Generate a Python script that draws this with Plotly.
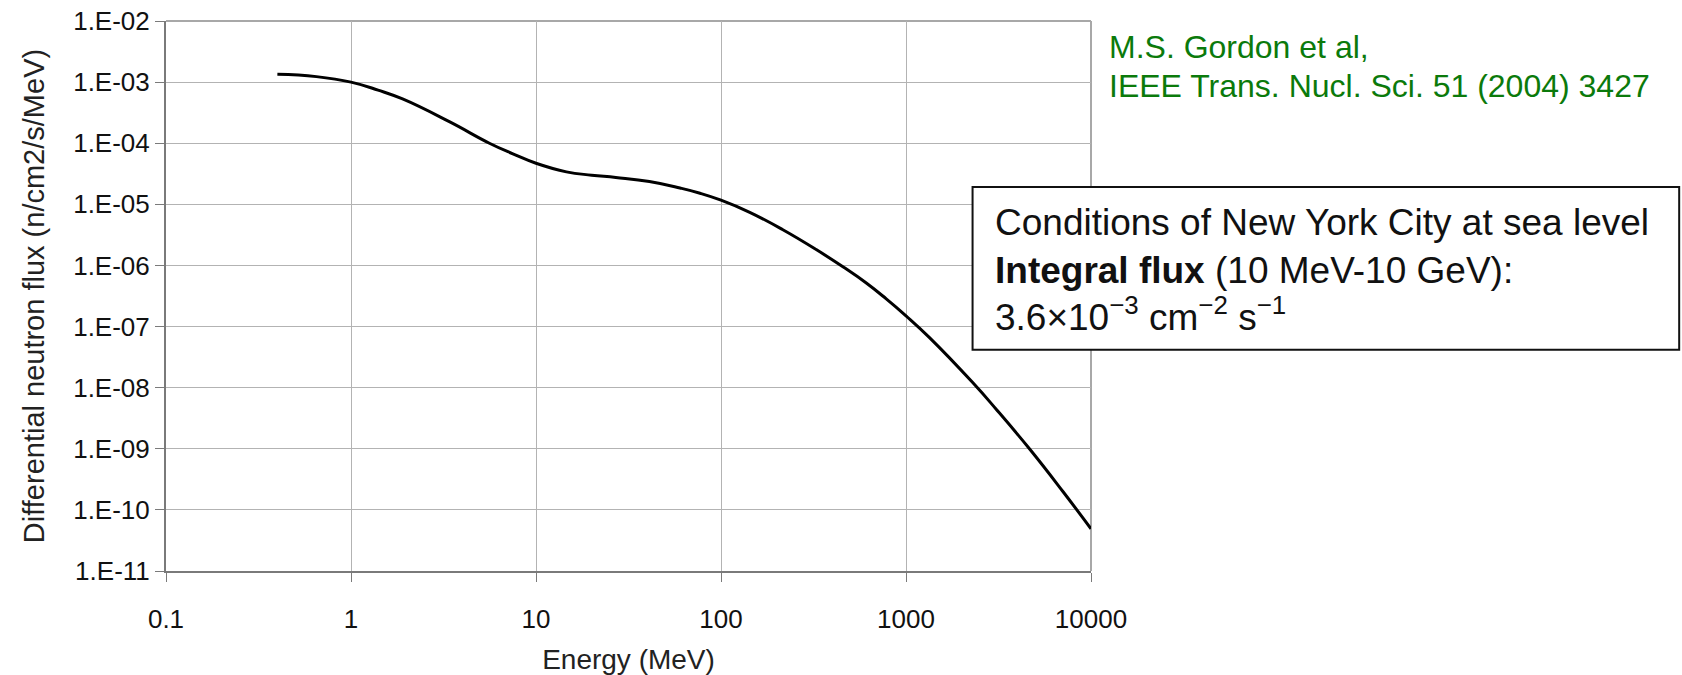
import plotly.graph_objects as go

# Data
energy_mev = [0.4, 0.65, 1.0, 1.4, 1.9, 3.4, 5.6, 7.5, 10, 14.6, 20, 27, 41, 60, 77,
              100, 143, 216, 327, 456, 610, 782, 1000, 1340, 2300, 3080, 4660, 7050,
              10000]
flux = [1.34e-3, 1.23e-3, 1.0e-3, 7.4e-4, 5.3e-4, 2.25e-4, 1.0e-4, 6.7e-5, 4.7e-5,
        3.4e-5, 3.0e-5, 2.75e-5, 2.36e-5, 1.85e-5, 1.52e-5, 1.17e-5, 7.4e-6, 3.84e-6,
        1.82e-6, 9.5e-7, 5.16e-7, 2.84e-7, 1.5e-7, 6.6e-8, 1.2e-8, 4.4e-9, 9.9e-10,
        2.0e-10, 4.9e-11]

x_tickvals = [0.1, 1, 10, 100, 1000, 10000]
x_ticktext = ["0.1", "1", "10", "100", "1000", "10000"]
y_tickvals = [1e-2, 1e-3, 1e-4, 1e-5, 1e-6, 1e-7, 1e-8, 1e-9, 1e-10, 1e-11]
y_ticktext = ["1.E-02", "1.E-03", "1.E-04", "1.E-05", "1.E-06", "1.E-07",
              "1.E-08", "1.E-09", "1.E-10", "1.E-11"]

W, H = 1682, 675
L, R, T, B = 166, 1091.5, 21, 571.3
FONT = "Liberation Sans, Arial, Helvetica, sans-serif"
GREEN = "#0b7a0b"


def px(xp):
    return (xp - L) / (R - L)


def py(yp):
    return (B - yp) / (B - T)


fig = go.Figure()
fig.add_trace(go.Scatter(
    x=energy_mev, y=flux, mode="lines",
    line=dict(color="black", width=3, shape="spline", smoothing=1.3),
    showlegend=False, hoverinfo="x+y",
))

axis_common = dict(
    type="log",
    showgrid=True, gridcolor="#b3b3b3", gridwidth=1,
    showline=True, linecolor="#7a7a7a", linewidth=2,
    ticks="outside", ticklen=9, tickcolor="#7a7a7a", tickwidth=1,
    tickfont=dict(family=FONT, size=26, color="#111111"),
    zeroline=False,
)

fig.update_xaxes(
    **axis_common,
    range=[-1, 4],
    tickvals=x_tickvals, ticktext=x_ticktext,
    ticklabelstandoff=15,
    title=dict(text="Energy (MeV)", font=dict(family=FONT, size=28, color="#222222"),
               standoff=20),
)
fig.update_yaxes(
    **axis_common,
    range=[-11, -2],
    tickvals=y_tickvals, ticktext=y_ticktext,
    ticklabelstandoff=0,
    title=dict(text="Differential neutron flux (n/cm2/s/MeV)",
               font=dict(family=FONT, size=29, color="#222222"), standoff=20),
)

shapes = [
    # top and right frame lines
    dict(type="line", xref="paper", yref="paper", x0=0, x1=1, y0=1, y1=1,
         line=dict(color="#a8a8a8", width=2), layer="below"),
    dict(type="line", xref="paper", yref="paper", x0=1, x1=1, y0=0, y1=1,
         line=dict(color="#a8a8a8", width=2), layer="below"),
    # info box
    dict(type="rect", xref="paper", yref="paper",
         x0=px(973), x1=px(1680), y0=py(350), y1=py(187),
         line=dict(color="#111111", width=2), fillcolor="white", layer="above"),
]

annotations = [
    dict(text="M.S. Gordon et al,", x=px(1108), y=py(47)),
    dict(text="IEEE Trans. Nucl. Sci. 51 (2004) 3427", x=px(1108), y=py(86)),
]
for a in annotations:
    a.update(xref="paper", yref="paper", xanchor="left", yanchor="middle",
             showarrow=False, font=dict(family=FONT, size=32, color=GREEN))

box_lines = [
    ("Conditions of New York City at sea level", 223),
    ("<b>Integral flux</b> (10 MeV-10 GeV):", 271),
    ("3.6×10<sup>−3</sup> cm<sup>−2</sup> s<sup>−1</sup>", 315),
]
for text, yc in box_lines:
    annotations.append(dict(
        text=text, x=px(993), y=py(yc), xref="paper", yref="paper",
        xanchor="left", yanchor="middle", showarrow=False,
        font=dict(family=FONT, size=37, color="#111111"),
    ))

fig.update_layout(
    width=W, height=H,
    margin=dict(l=L, r=W - R, t=T, b=H - B, autoexpand=False),
    paper_bgcolor="white", plot_bgcolor="white",
    shapes=shapes, annotations=annotations,
    showlegend=False,
)

fig.write_html("out.html")
